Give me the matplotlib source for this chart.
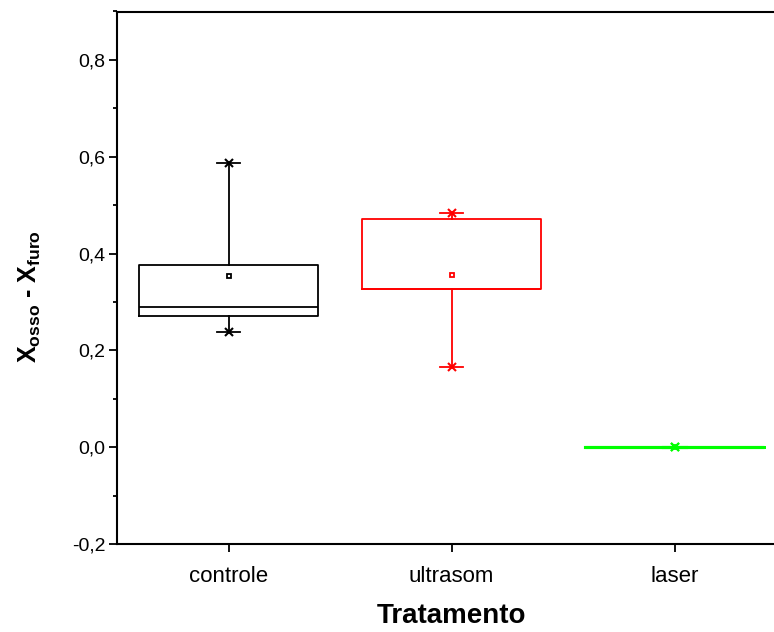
import matplotlib
matplotlib.use("Agg")
import matplotlib.pyplot as plt
from matplotlib.ticker import MultipleLocator, FixedLocator

categories = ["controle", "ultrasom", "laser"]
colors = ["#000000", "#FF0000", "#00FF00"]
whisker_low = [0.237, 0.165, 0.0]
q1 = [0.270, 0.327, 0.0]
median = [0.289, 0.327, 0.0]
q3 = [0.377, 0.472, 0.0]
whisker_high = [0.588, 0.484, 0.0]
means = [0.354, 0.356, 0.0]
ytick_vals = [-0.2, 0.0, 0.2, 0.4, 0.6, 0.8]
ytick_labels = ["-0,2", "0,0", "0,2", "0,4", "0,6", "0,8"]

plt.rcParams['font.family'] = ['Liberation Sans', 'DejaVu Sans']
plt.rcParams['mathtext.fontset'] = 'custom'
plt.rcParams['mathtext.rm'] = 'Liberation Sans'
plt.rcParams['mathtext.bf'] = 'Liberation Sans:bold'

W, H = 774, 632
fig = plt.figure(figsize=(W / 100, H / 100), dpi=100)
ax = fig.add_axes([117 / W, 1 - 544 / H, 669 / W, (544 - 11.5) / H])

positions = [1, 2, 3]
for i, cat in enumerate(categories):
    st = dict(whislo=whisker_low[i], q1=q1[i], med=median[i], q3=q3[i],
              whishi=whisker_high[i], mean=means[i], fliers=[], label=cat)
    c = colors[i]
    lw = 1.3 if i < 2 else 2.2
    ax.bxp([st], positions=[positions[i]], widths=0.8, showmeans=True,
           capwidths=0.1,
           boxprops=dict(color=c, linewidth=lw),
           whiskerprops=dict(color=c, linewidth=lw),
           capprops=dict(color=c, linewidth=lw),
           medianprops=dict(color=c, linewidth=lw),
           meanprops=dict(marker='s', markersize=3.5, markerfacecolor='none',
                          markeredgecolor=c, markeredgewidth=1.3),
           manage_ticks=False)
    ax.plot([positions[i], positions[i]], [whisker_low[i], whisker_high[i]],
            linestyle='none', marker='x', markersize=6, color=c,
            markeredgewidth=1.5)

ax.set_xlim(0.5, 3.5)
ax.set_ylim(-0.2, 0.9)
ax.xaxis.set_major_locator(FixedLocator(positions))
ax.set_xticklabels(categories, fontsize=16)
ax.yaxis.set_major_locator(FixedLocator(ytick_vals))
ax.set_yticklabels(ytick_labels, fontsize=14)
ax.yaxis.set_minor_locator(MultipleLocator(0.1))

for s in ['left', 'bottom', 'top', 'right']:
    ax.spines[s].set_linewidth(1.5)
ax.tick_params(which='major', direction='out', length=5.5, width=1.3)
ax.tick_params(which='minor', direction='out', length=3, width=1.3)
ax.tick_params(axis='y', pad=3)
ax.tick_params(axis='x', pad=10)

ax.set_xlabel('Tratamento', fontsize=20, fontweight='bold', labelpad=12)
fig.text(30 / W, 1 - 297 / H, r'$\mathbf{X_{osso}}$ - $\mathbf{X_{furo}}$',
         fontsize=18, fontweight='bold', rotation=90, ha='center', va='center')

fig.savefig('out.png', dpi=100)
